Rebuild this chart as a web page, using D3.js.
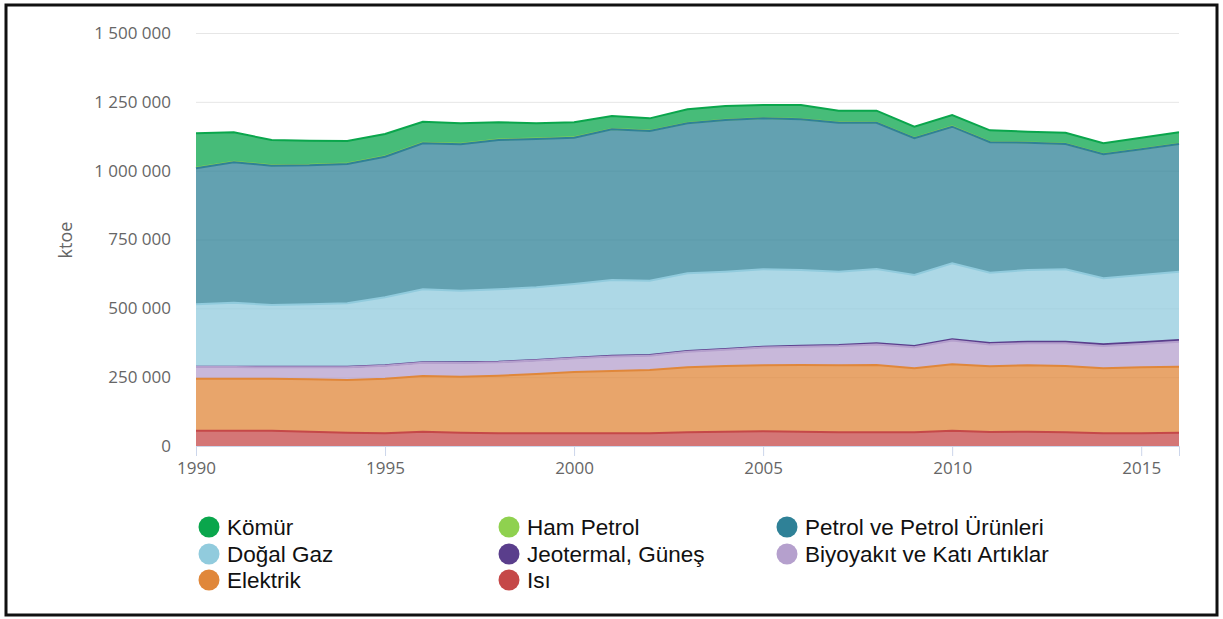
<!DOCTYPE html>
<html>
<head>
<meta charset="utf-8">
<script src="https://cdn.jsdelivr.net/npm/d3@7"></script>
<style>
  body { margin: 0; background: #fff; }
  svg { display: block; }
</style>
</head>
<body>
<div id="graph"></div>
<script>
// ktoe
var years = [1990, 1991, 1992, 1993, 1994, 1995, 1996, 1997, 1998, 1999, 2000, 2001, 2002,
  2003, 2004, 2005, 2006, 2007, 2008, 2009, 2010, 2011, 2012, 2013, 2014, 2015, 2016];
var komur = [125100, 107100, 91500, 87600, 81800, 80800, 76800, 74600, 62700, 55500, 54500, 47000, 44500,
  49500, 49600, 47300, 50700, 42500, 42600, 41000, 41400, 42100, 39000, 40000, 38900, 41100, 41500];
var hamPetrol = [2000, 1900, 1900, 1800, 1800, 1700, 1700, 1600, 1600, 1500, 1500, 1400, 1400,
  1300, 1300, 1200, 1200, 1200, 1100, 1100, 1100, 1000, 1000, 1000, 1000, 1000, 1000];
var petrol = [493600, 509900, 505900, 504900, 505900, 510700, 530300, 531700, 542300, 538600, 531300, 547300, 543700,
  544800, 550900, 548200, 547400, 541100, 531300, 496500, 496100, 474000, 462400, 455100, 450400, 456500, 463800];
var dogalGaz = [227000, 232500, 224100, 226600, 230300, 247000, 265100, 260100, 262900, 264000, 267700, 274900, 269900,
  282200, 280800, 281100, 274900, 266300, 270000, 257900, 276100, 255400, 260400, 263000, 239700, 244500, 248100];
var jeotermal = [1500, 1500, 1600, 1700, 1800, 1900, 2000, 2100, 2200, 2300, 2400, 2500, 2600,
  2800, 3000, 3200, 3400, 3700, 4000, 4300, 4600, 4900, 5200, 5500, 5800, 6100, 6400];
var biyoyakit = [42100, 42100, 42000, 44000, 46500, 46700, 47800, 50200, 48700, 48600, 49500, 53100, 51900,
  56400, 58700, 64400, 66700, 70000, 74700, 76700, 86200, 79100, 80500, 82700, 81400, 84700, 90600];
var elektrik = [188800, 188800, 188800, 190300, 191400, 198400, 202200, 203400, 209300, 215500, 222800, 226400, 230000,
  236100, 238600, 239800, 242200, 243400, 244500, 232500, 241100, 239200, 241100, 240900, 236200, 239800, 239700];
var isi = [55600, 55600, 55600, 52000, 48300, 46000, 52000, 48300, 46000, 46000, 46000, 46000, 46000,
  49700, 52000, 53300, 52000, 49700, 49700, 49700, 55600, 50800, 52000, 49700, 46000, 46000, 48300];

var seriesNames = ["Kömür", "Ham Petrol", "Petrol ve Petrol Ürünleri", "Doğal Gaz",
  "Jeotermal, Güneş", "Biyoyakıt ve Katı Artıklar", "Elektrik", "Isı"];
var seriesValues = [komur, hamPetrol, petrol, dogalGaz, jeotermal, biyoyakit, elektrik, isi];
var seriesColors = ["#0aa64c", "#8fd14f", "#2f8197", "#91cbdd", "#5a3e8c", "#b5a0cd", "#e0873a", "#c54848"];

var yTicks = [0, 250000, 500000, 750000, 1000000, 1250000, 1500000];
var xTicks = [1990, 1995, 2000, 2005, 2010, 2015];

draw();

function draw() {
  var W = 1223, H = 619;
  var plotL = 196, plotR = 1179, plotT = 33, plotB = 446;

  var svg = d3.select("#graph").append("svg")
      .attr("width", W)
      .attr("height", H);

  svg.append("rect")
    .attr("x", 6).attr("y", 5)
    .attr("width", 1211).attr("height", 610)
    .attr("fill", "#fff")
    .attr("stroke", "#111")
    .attr("stroke-width", 3);

  var x = d3.scaleLinear().domain([1990, 2016]).range([plotL, plotR]);
  var y = d3.scaleLinear().domain([0, 1500000]).range([plotB, plotT]);

  var loc = d3.formatLocale({ decimal: ",", thousands: " ", grouping: [3], currency: ["", ""] });
  var fmt = loc.format(",d");

  // grid
  svg.append("g")
    .attr("transform", "translate(" + plotL + ",0)")
    .call(d3.axisLeft(y).tickValues(yTicks).tickSize(-(plotR - plotL)).tickFormat(""))
    .call(function (g) { g.select(".domain").remove(); })
    .selectAll("line")
    .attr("stroke", "#e6e6e6");

  // y labels
  var yAxis = svg.append("g")
    .attr("transform", "translate(" + plotL + ",0)")
    .call(d3.axisLeft(y).tickValues(yTicks).tickSize(0).tickPadding(25).tickFormat(fmt));
  yAxis.select(".domain").remove();
  yAxis.selectAll("text")
    .attr("fill", "#666")
    .style("font-family", "'Open Sans', sans-serif")
    .style("font-size", "17px");

  svg.append("text")
    .attr("transform", "translate(72,240) rotate(-90)")
    .attr("text-anchor", "middle")
    .attr("fill", "#666")
    .style("font-family", "'Open Sans', sans-serif")
    .style("font-size", "18px")
    .text("ktoe");

  // stacked areas, bottom layer = last series
  var table = years.map(function (yr, i) {
    var row = { year: yr };
    seriesNames.forEach(function (n, k) { row[n] = seriesValues[k][i]; });
    return row;
  });
  var layers = d3.stack().keys(seriesNames.slice().reverse())(table);

  var area = d3.area()
    .x(function (d) { return x(d.data.year); })
    .y0(function (d) { return y(d[0]); })
    .y1(function (d) { return y(d[1]); });
  var line = d3.line()
    .x(function (d) { return x(d.data.year); })
    .y(function (d) { return y(d[1]); });

  function colorOf(name) { return seriesColors[seriesNames.indexOf(name)]; }

  var drawOrder = layers.slice().reverse();
  svg.selectAll("path.area")
    .data(drawOrder)
    .enter()
    .append("path")
    .attr("class", "area")
    .attr("d", area)
    .attr("fill", function (d) { return colorOf(d.key); })
    .attr("fill-opacity", 0.75);

  svg.selectAll("path.line")
    .data(drawOrder)
    .enter()
    .append("path")
    .attr("class", "line")
    .attr("d", line)
    .attr("fill", "none")
    .attr("stroke", function (d) { return colorOf(d.key); })
    .attr("stroke-width", 2);

  // x axis
  var xAxis = svg.append("g")
    .attr("transform", "translate(0," + plotB + ")")
    .call(d3.axisBottom(x).tickValues(xTicks).tickSize(10).tickPadding(6).tickFormat(d3.format("d")));
  xAxis.select(".domain").attr("stroke", "#ccd6eb");
  xAxis.selectAll("line").attr("stroke", "#ccd6eb");
  xAxis.selectAll("text")
    .attr("fill", "#666")
    .style("font-family", "'Open Sans', sans-serif")
    .style("font-size", "17px");

  // legend: 3 columns
  var colX = [209, 509, 787];
  var rowY = [527, 554, 580];
  var leg = svg.selectAll("g.leg")
    .data(seriesNames)
    .enter()
    .append("g")
    .attr("class", "leg")
    .attr("transform", function (d, i) {
      return "translate(" + colX[i % 3] + "," + rowY[Math.floor(i / 3)] + ")";
    });
  leg.append("circle")
    .attr("r", 10.5)
    .attr("fill", function (d, i) { return seriesColors[i]; });
  leg.append("text")
    .attr("x", 18)
    .attr("y", 8)
    .attr("fill", "#111")
    .style("font-family", "'Liberation Sans', Arial, sans-serif")
    .style("font-size", "22.5px")
    .text(function (d) { return d; });
}
</script>
</body>
</html>
